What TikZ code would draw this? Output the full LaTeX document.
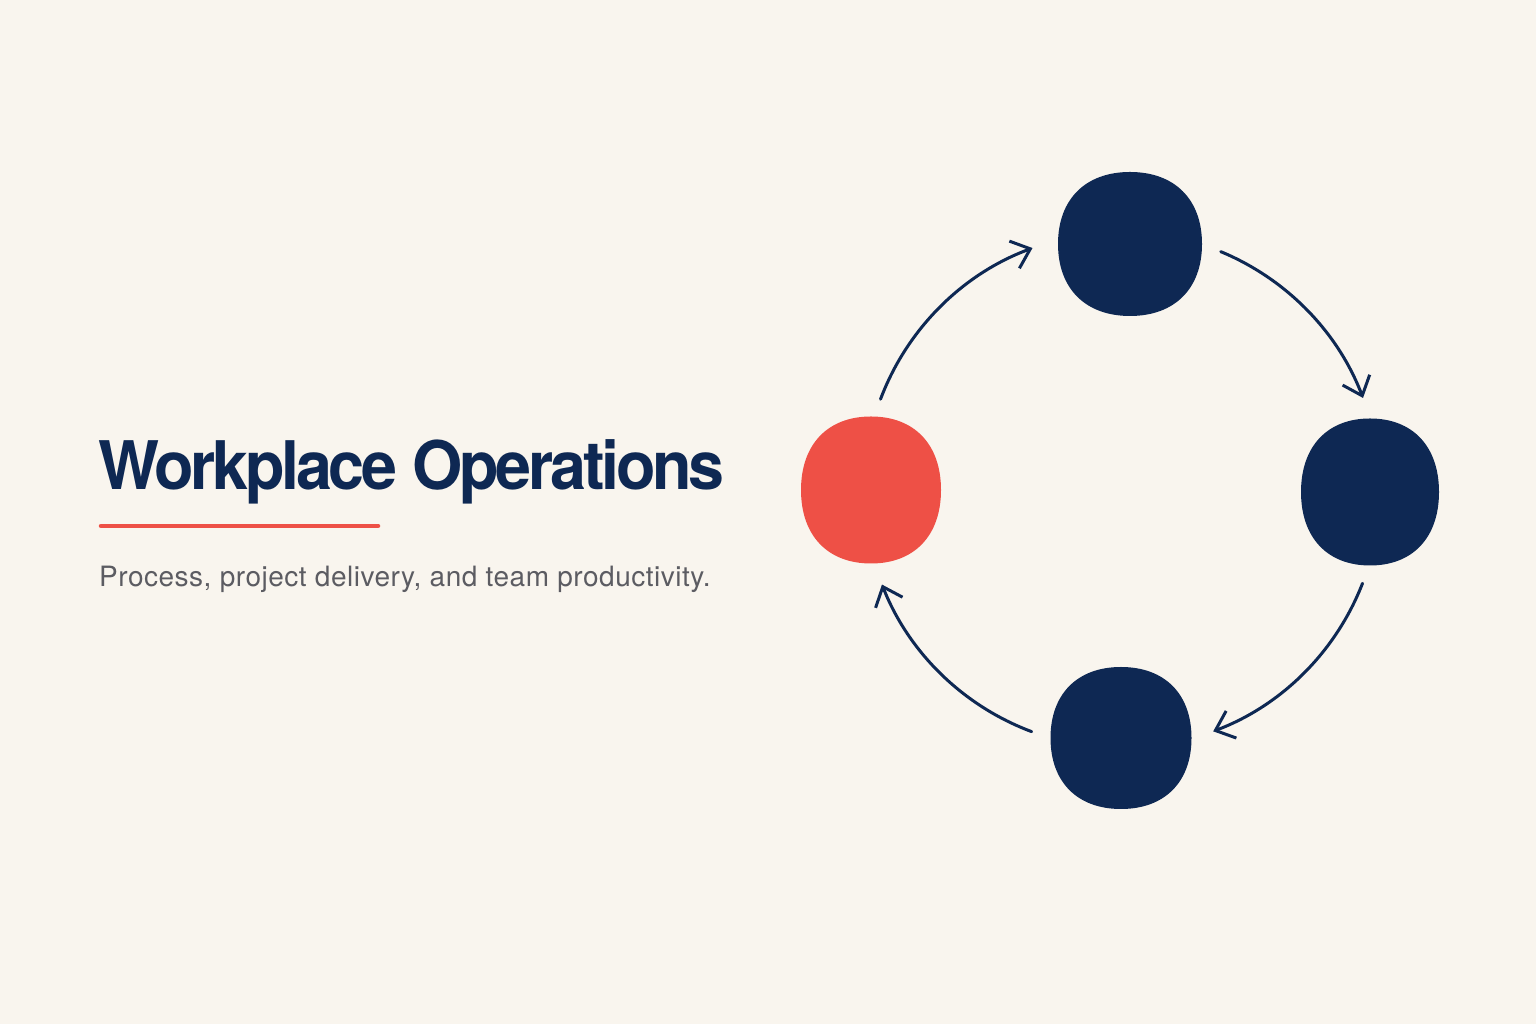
\documentclass[tikz,border=0pt]{standalone}
\usepackage{fontspec}
\setmainfont{TeX Gyre Heros}
\newfontfamily\titlefont[LetterSpace=-5]{TeX Gyre Heros}
\newfontfamily\subfont[LetterSpace=1.8]{TeX Gyre Heros}
\usetikzlibrary{arrows.meta,calc}
\definecolor{bg}{HTML}{F9F5EE}
\definecolor{navy}{HTML}{0E2853}
\definecolor{coral}{HTML}{EE5046}
\definecolor{subgray}{HTML}{5C5C62}
\tikzset{
  blobspot/.style={draw=none, fill=none, inner sep=0pt},
  cyc/.style={draw=navy, line width=3pt, line cap=round,
    -{Straight Barb[length=17pt,width=29pt,line width=3pt]}},
}
% soft rounded blob round a named node: node, rx, ry, colour
\newcommand\blobfill[4]{%
  \fill[#4] ($(#1)+(#2,0)$)
    .. controls ($(#1)+(#2,{0.62*#3})$) and ($(#1)+({0.62*#2},#3)$) .. ($(#1)+(0,#3)$)
    .. controls ($(#1)+({-0.62*#2},#3)$) and ($(#1)+(-#2,{0.62*#3})$) .. ($(#1)+(-#2,0)$)
    .. controls ($(#1)+(-#2,{-0.62*#3})$) and ($(#1)+({-0.62*#2},-#3)$) .. ($(#1)+(0,-#3)$)
    .. controls ($(#1)+({0.62*#2},-#3)$) and ($(#1)+(#2,{-0.62*#3})$) .. cycle;}
\begin{document}
\begin{tikzpicture}[x=1pt,y=1pt]
\useasboundingbox (0,0) rectangle (1536,1024);
\fill[bg] (0,0) rectangle (1536,1024);
% title
\node[anchor=base west, inner sep=0pt, text=navy] (title) at (98,534)
  {\scalebox{0.965}[1]{\titlefont\fontsize{67}{70}\selectfont\bfseries Workplace Operations}};
\coordinate (ul1) at (101,498);
\coordinate (ul2) at (378,498);
\draw[coral, line width=4.5pt, line cap=round] (ul1) -- (ul2);
\node[anchor=base west, inner sep=0pt, text=subgray] (sub) at (99,437)
  {\subfont\fontsize{28}{30}\selectfont Process, project delivery, and team productivity.};
% blobs
\node[blobspot, minimum width=144pt, minimum height=144pt] (top) at (1130,780) {};
\node[blobspot, minimum width=138pt, minimum height=147pt] (right) at (1370,532) {};
\node[blobspot, minimum width=141pt, minimum height=142pt] (bottom) at (1121,286) {};
\node[blobspot, minimum width=140pt, minimum height=147pt] (red) at (871,534) {};
\blobfill{top}{72}{72}{navy}
\blobfill{right}{69}{73.5}{navy}
\blobfill{bottom}{70.5}{71}{navy}
\blobfill{red}{70}{73.5}{coral}
% cycle arrows
\coordinate (ctr) at (1122,534);
\coordinate (a1) at ($(ctr)+(159.4:258)$);
\coordinate (a2) at ($(ctr)+(67.5:258)$);
\coordinate (a3) at ($(ctr)+(-21.2:258)$);
\coordinate (a4) at ($(ctr)+(-110.5:258)$);
\draw[cyc] (a1) arc[start angle=159.4, end angle=110.3, radius=258];
\draw[cyc] (a2) arc[start angle=67.5, end angle=20.9, radius=258];
\draw[cyc] (a3) arc[start angle=-21.2, end angle=-69.3, radius=258];
\draw[cyc] (a4) arc[start angle=-110.5, end angle=-158.5, radius=258];
\end{tikzpicture}
\end{document}
